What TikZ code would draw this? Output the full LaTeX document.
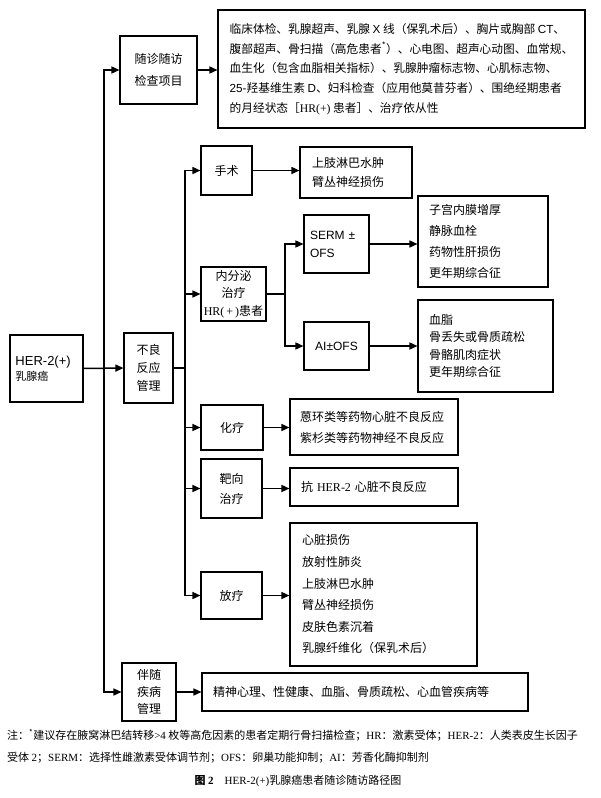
\documentclass[tikz,border=0pt]{standalone}
\usepackage{fontspec}
\setmainfont{Noto Sans CJK SC}
\newfontfamily\ls{Liberation Sans}
\newfontfamily\lsr{Liberation Serif}
\usetikzlibrary{arrows.meta}
\begin{document}
\begin{tikzpicture}[x=1pt,y=-1pt,
 box/.style={draw, line width=1.1pt, inner sep=0pt, align=center, font=\fontsize{12}{18}\selectfont},
 lst/.style={draw, line width=1.1pt, inner ysep=0pt, inner xsep=11pt, align=left, font=\fontsize{12}{21}\selectfont},
 arr/.style={line width=1.5pt, -{Triangle[length=8pt,width=7pt]}},
 ln/.style={line width=1.5pt}]
\path[fill=white] (0,0) rectangle (600,798);
\useasboundingbox (0,0) rectangle (600,798);

% nodes
\node[box, minimum width=367, minimum height=118, align=left, font=\fontsize{11.7}{19.7}\selectfont] (top) at (401.5,69)
 {临床体检、乳腺超声、乳腺 {\ls X} 线（保乳术后）、胸片或胸部 {\ls CT}、\\
  腹部超声、骨扫描（高危患者\textsuperscript{*}）、心电图、超声心动图、血常规、\\
  血生化（包含血脂相关指标）、乳腺肿瘤标志物、心肌标志物、\\
  {\ls 25-}羟基维生素 {\ls D}、妇科检查（应用他莫昔芬者）、围绝经期患者\\
  的月经状态［{\lsr HR(+)} 患者］、治疗依从性};
\node[box, minimum width=77, minimum height=68, font=\fontsize{12}{22}\selectfont] (sz) at (158.5,70) {随诊随访\\检查项目};
\node[box, minimum width=73, minimum height=67, align=left, text width=62, inner xsep=5.5pt, font=\fontsize{12}{15}\selectfont] (her) at (46.5,368.5)
 {{\ls\fontsize{13}{15}\selectfont HER-2(+)}\\{\fontsize{11}{15}\selectfont 乳腺癌}};
\node[box, minimum width=49, minimum height=70] (bl) at (148.5,368) {不良\\反应\\管理};
\node[box, minimum width=51, minimum height=49] (ss) at (226.5,170.5) {手术};
\node[lst, minimum width=112, minimum height=51, text width=88, inner xsep=12pt, font=\fontsize{12}{19}\selectfont] (ssl) at (356,172.5) {上肢淋巴水肿\\臂丛神经损伤};
\node[box, minimum width=65, minimum height=54, font=\fontsize{12}{17.5}\selectfont] (nf) at (233.5,294) {内分泌\\治疗\\{\lsr HR(\,+\,)}患者};
\node[box, minimum width=65, minimum height=58, align=left, text width=53, inner xsep=6pt, font=\ls\fontsize{12}{18}\selectfont] (serm) at (336.5,244) {SERM ±\\OFS};
\node[box, minimum width=65, minimum height=48, font=\ls\fontsize{12}{18}\selectfont] (ai) at (336.5,346) {AI±OFS};
\node[lst, minimum width=130, minimum height=91, text width=108] (l1) at (483,241.5) {子宫内膜增厚\\静脉血栓\\药物性肝损伤\\更年期综合征};
\node[lst, minimum width=135, minimum height=92, text width=113, font=\fontsize{12}{17.5}\selectfont] (l2) at (485.5,346) {血脂\\骨丢失或骨质疏松\\骨骼肌肉症状\\更年期综合征};
\node[box, minimum width=62, minimum height=45] (hl) at (232,427.5) {化疗};
\node[lst, minimum width=168, minimum height=56, text width=148, inner xsep=10pt] (hll) at (374,427) {蒽环类等药物心脏不良反应\\紫杉类等药物神经不良反应};
\node[box, minimum width=61, minimum height=59, font=\fontsize{12}{20}\selectfont] (bx) at (231.5,488.5) {靶向\\治疗};
\node[lst, minimum width=168, minimum height=38, text width=146] (bxl) at (374,487) {抗 {\lsr HER-2} 心脏不良反应};
\node[box, minimum width=61, minimum height=47] (fl) at (231.5,595.5) {放疗};
\node[lst, minimum width=187, minimum height=143, text width=163, inner xsep=12pt, font=\fontsize{12}{21.6}\selectfont] (fll) at (383.5,594.5)
 {心脏损伤\\放射性肺炎\\上肢淋巴水肿\\臂丛神经损伤\\皮肤色素沉着\\乳腺纤维化（保乳术后）};
\node[box, minimum width=54, minimum height=58, font=\fontsize{12}{17}\selectfont] (bs) at (149,692) {伴随\\疾病\\管理};
\node[lst, minimum width=326, minimum height=38, text width=304] (bsl) at (365,692) {精神心理、性健康、血脂、骨质疏松、心血管疾病等};

% caption
\node[anchor=west, inner sep=0pt, font=\fontsize{11}{13}\selectfont] (n1) at (7,735)
 {注：\textsuperscript{*}建议存在腋窝淋巴结转移{\lsr >4} 枚等高危因素的患者定期行骨扫描检查；{\lsr HR}：激素受体；{\lsr HER-2}：人类表皮生长因子};
\node[anchor=west, inner sep=0pt, font=\fontsize{11}{13}\selectfont] (n2) at (7,758)
 {受体 {\lsr 2}；{\lsr SERM}：选择性雌激素受体调节剂；{\lsr OFS}：卵巢功能抑制；{\lsr AI}：芳香化酶抑制剂};
\node[inner sep=0pt, font=\fontsize{11}{13}\selectfont] (ttl) at (298,781)
 {{\bfseries 图 {\lsr 2}}\quad {\lsr HER-2(+)}乳腺癌患者随诊随访路径图};

% connectors
\coordinate (T) at (104,0);
\coordinate (U) at (185,0);
\coordinate (B) at (285,0);
\draw[arr] (her.east) -- (bl.west);
\draw[arr] (T |- her.east) |- (sz.west);
\draw[arr] (T |- her.east) |- (bs.west);
\draw[arr] (sz.east) -- (top.west |- sz.east);
\draw[ln] (bl.east) -- (U |- bl.east);
\foreach \n in {ss,nf,hl,bx,fl} \draw[arr] (U |- bl.east) |- (\n.west);
\draw[arr] (ss.east) -- (ssl.west |- ss.east);
\draw[ln] (nf.east) -- (B |- nf.east);
\draw[arr] (B |- nf.east) |- (serm.west);
\draw[arr] (B |- nf.east) |- (ai.west);
\draw[arr] (serm.east) -- (l1.west |- serm.east);
\draw[arr] (ai.east) -- (l2.west |- ai.east);
\draw[arr] (hl.east) -- (hll.west |- hl.east);
\draw[arr] (bx.east) -- (bxl.west |- bx.east);
\draw[arr] (fl.east) -- (fll.west |- fl.east);
\draw[arr] (bs.east) -- (bsl.west |- bs.east);
\end{tikzpicture}
\end{document}
